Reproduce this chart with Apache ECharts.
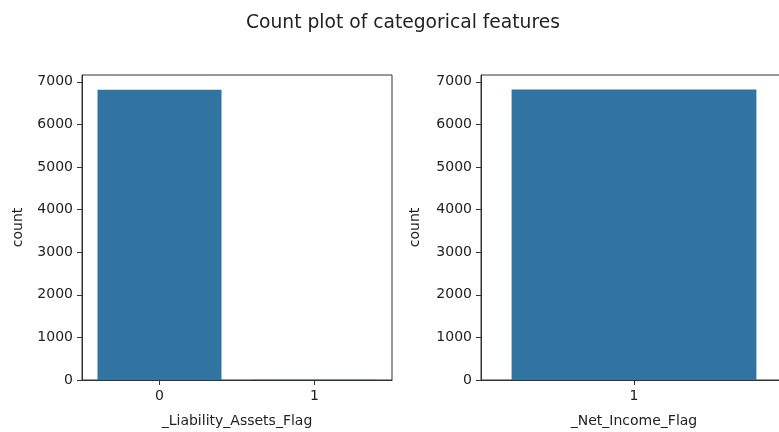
<!DOCTYPE html>
<html><head><meta charset="utf-8">
<script src="https://cdn.jsdelivr.net/npm/echarts@6/dist/echarts.min.js"></script>
<style>html,body{margin:0;padding:0;background:#fff;overflow:hidden}#c{width:795px;height:432px}</style>
</head><body><div id="c"></div>
<script>
const titleText = 'Count plot of categorical features';
const leftCategories = ['0', '1'];
const leftCounts = [6811, 8];
const leftName = '_Liability_Assets_Flag';
const rightCategories = ['1'];
const rightCounts = [6819];
const rightName = '_Net_Income_Flag';
const yTicks = [0, 1000, 2000, 3000, 4000, 5000, 6000, 7000];
const yMax = 7160;

const font = 'DejaVu Sans';
const txt = '#222';
const barColor = '#3274a1';

function xAxis(idx, cats, name) {
  return {
    type: 'category', gridIndex: idx, data: cats, boundaryGap: true,
    name: name, nameLocation: 'middle', nameGap: 34,
    nameTextStyle: {fontFamily: font, fontSize: 14, color: txt},
    axisLine: {lineStyle: {color: '#333', width: 1}},
    axisTick: {show: true, alignWithLabel: true, length: 5, inside: false, lineStyle: {color: '#333'}},
    axisLabel: {fontFamily: font, fontSize: 14, color: txt, margin: 9},
    splitLine: {show: false}
  };
}
function yAxis(idx, gap) {
  return {
    type: 'value', gridIndex: idx, min: 0, max: yMax,
    name: 'count', nameLocation: 'middle', nameGap: gap, nameRotate: 90,
    nameTextStyle: {fontFamily: font, fontSize: 14, color: txt},
    axisLine: {show: true, lineStyle: {color: '#333', width: 1}},
    axisTick: {show: true, length: 5, customValues: yTicks, lineStyle: {color: '#333'}},
    axisLabel: {fontFamily: font, fontSize: 14, color: txt, margin: 9, customValues: yTicks,
      formatter: function (v) { return String(v); }},
    splitLine: {show: false}
  };
}

const chart = echarts.init(document.getElementById('c'), null, {renderer: 'canvas'});
chart.setOption({
  animation: false,
  backgroundColor: '#fff',
  title: {text: titleText, left: 398, top: 9, textAlign: 'center',
    textStyle: {fontFamily: font, fontSize: 18.7, fontWeight: 'normal', color: txt}},
  grid: [
    {left: 82, top: 75, width: 310, bottom: 52, show: true, borderColor: '#333', borderWidth: 1, containLabel: false, outerBoundsMode: 'none'},
    {left: 481, top: 75, width: 306, bottom: 52, show: true, borderColor: '#333', borderWidth: 1, containLabel: false, outerBoundsMode: 'none'}
  ],
  xAxis: [xAxis(0, leftCategories, leftName), xAxis(1, rightCategories, rightName)],
  yAxis: [yAxis(0, 57), yAxis(1, 59)],
  series: [
    {type: 'bar', xAxisIndex: 0, yAxisIndex: 0, data: leftCounts, barWidth: '80%',
      itemStyle: {color: barColor}},
    {type: 'bar', xAxisIndex: 1, yAxisIndex: 1, data: rightCounts, barWidth: '80%',
      itemStyle: {color: barColor}}
  ]
});
</script></body></html>
